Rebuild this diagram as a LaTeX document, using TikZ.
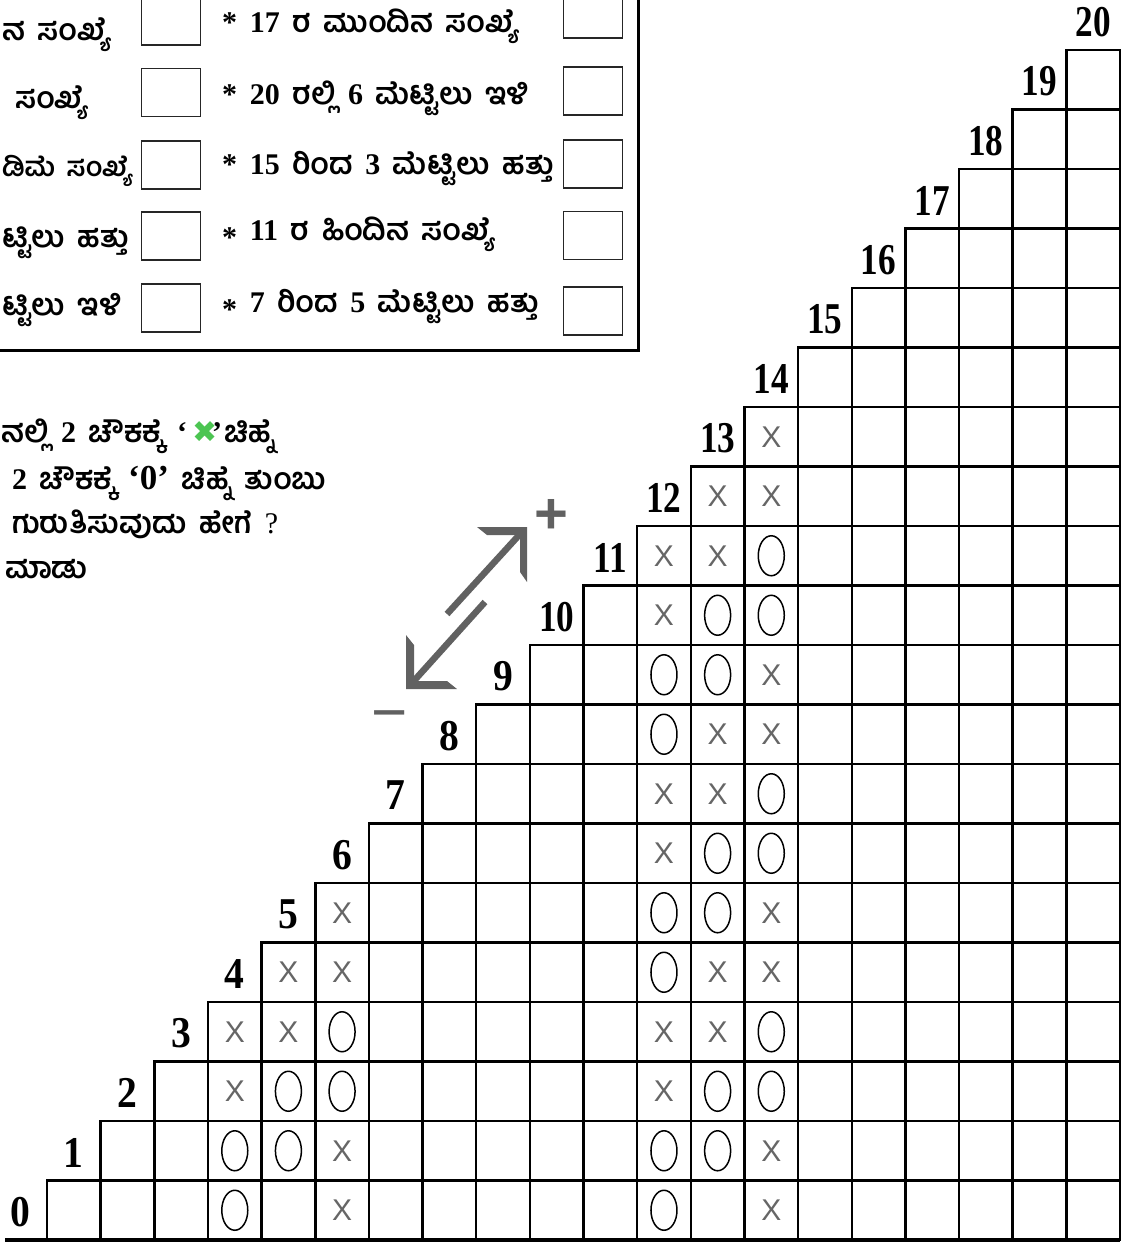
\documentclass[tikz,border=0pt]{standalone}
\usepackage{fontspec}
\usepackage{graphicx}
\setmainfont{Liberation Serif}
\newfontfamily\kanfont[Script=Kannada,WordSpace=1.7]{Hind Mysuru}
\newfontfamily\markfont{Liberation Sans}
\newfontfamily\symfont{DejaVu Sans}
\usetikzlibrary{shapes.geometric}
\definecolor{markgray}{HTML}{666666}
\definecolor{arrowgray}{HTML}{616161}
\definecolor{tickgreen}{HTML}{4CC552}
\newcommand{\cellw}{53.65}
\newcommand{\cellh}{59.5}
\newcommand{\num}[1]{{\rmfamily\bfseries #1}}
\newcommand{\stepnum}[1]{\ifnum#1>9 \scalebox{0.8}[1]{#1}\else\scalebox{0.9}[1]{#1}\fi}

\begin{document}
\begin{tikzpicture}[
    x=1pt,y=-1pt,
    every node/.style={inner sep=0pt},
    gridline/.style={line width=2.5pt},
    steplabel/.style={font=\bfseries\fontsize{44}{44}\selectfont},
    xmark/.style={font=\markfont\fontsize{30}{30}\selectfont,text=markgray},
    omark/.style={ellipse,draw,line width=1.5pt,minimum width=26pt,minimum height=40pt},
    ansbox/.style={draw=black!85,line width=1.6pt,minimum width=59pt,minimum height=48pt},
    kantext/.style={font=\kanfont\bfseries\fontsize{30}{36}\selectfont,anchor=base west},
    signtext/.style={font=\markfont\fontsize{62}{62}\selectfont,text=arrowgray},
]
\useasboundingbox (0,0) rectangle (1133,1242);

% === Question box ===
\draw[line width=3pt] (-5,350) -- (638,350) -- (638,-5);

\node[ansbox] (ansL1) at (171,21) {};
\node[ansbox] (ansL2) at (171,92.5) {};
\node[ansbox] (ansL3) at (171,165) {};
\node[ansbox] (ansL4) at (171,236) {};
\node[ansbox] (ansL5) at (171,308) {};

\node[ansbox] (ansR1) at (593,14) {};
\node[ansbox] (ansR2) at (593,91) {};
\node[ansbox] (ansR3) at (593,164) {};
\node[ansbox] (ansR4) at (593,235.5) {};
\node[ansbox] (ansR5) at (593,311) {};

\node[kantext] (qL1) at (2,40) {ನ ಸಂಖ್ಯೆ};
\node[kantext] (qL2) at (15,108) {ಸಂಖ್ಯೆ};
\node[kantext,font=\kanfont\bfseries\fontsize{27}{32}\selectfont] (qL3) at (2,176) {ಡಿಮೆ ಸಂಖ್ಯೆ};
\node[kantext] (qL4) at (2,247) {ಟ್ಟಿಲು ಹತ್ತು};
\node[kantext] (qL5) at (2,315) {ಟ್ಟಿಲು ಇಳಿ};

\node[kantext] (qR1) at (222,32) {\num{*} \num{17} ರ ಮುಂದಿನ ಸಂಖ್ಯೆ};
\node[kantext] (qR2) at (222,104) {\num{*} \num{20} ರಲ್ಲಿ \num{6} ಮೆಟ್ಟಿಲು ಇಳಿ};
\node[kantext] (qR3) at (222,174) {\num{*} \num{15} ರಿಂದ \num{3} ಮೆಟ್ಟಿಲು ಹತ್ತು};
\node[kantext] (qR4) at (222,240) {\raisebox{-7pt}{\num{*}} \num{11} ರ ಹಿಂದಿನ ಸಂಖ್ಯೆ};
\node[kantext] (qR5) at (222,312) {\raisebox{-7pt}{\num{*}} \num{7} ರಿಂದ \num{5} ಮೆಟ್ಟಿಲು ಹತ್ತು};

% === Instructions ===
\node[kantext] (ins1) at (1,442) {ನಲ್ಲಿ \num{2} ಚೌಕಕ್ಕೆ \num{‘}\,{\symfont\mdseries\fontsize{30}{30}\selectfont\color{tickgreen}✖}\kern-5pt\num{’}\kern2pt ಚಿಹ್ನೆ};
\node[kantext] (ins2) at (12,489) {\num{2} ಚೌಕಕ್ಕೆ {\fontsize{35}{35}\selectfont\num{‘0’}} ಚಿಹ್ನೆ ತುಂಬು};
\node[kantext] (ins3) at (12,533) {ಗುರುತಿಸುವುದು ಹೇಗೆ {\rmfamily\mdseries ?}};
\node[kantext] (ins4) at (5,578) {ಮಾಡು};

% === Up / down arrow ===
\draw[arrowgray,line width=6.5pt] (447,614) -- (521,533);
\fill[arrowgray] (477,527) -- (527,527) -- (527,582) -- (520,572) -- (520,535) -- (487,535) -- cycle;
\draw[arrowgray,line width=6.5pt] (485,602) -- (412,683);
\fill[arrowgray] (406,635) -- (406,689) -- (457,689) -- (447,681) -- (414,681) -- (414,645) -- cycle;
\node[signtext,font=\markfont\bfseries\fontsize{58}{58}\selectfont] (plus) at (551,516) {+};
\node[signtext] (minus) at (390,722) {−};

% === Staircase ===
\foreach \r in {0,...,19}
    \foreach \c in {\r,...,19}
        \draw[gridline] ({47+\c*\cellw},{1240-\r*\cellh}) rectangle ++(\cellw,-\cellh);
\draw[line width=3.4pt] (5,1240) -- (1120,1240);
\draw[line width=3.4pt] ({47+8*\cellw},{1240-9*\cellh}) -- (1120,{1240-9*\cellh});

\foreach \r in {0,...,20}
    \node[steplabel] (lab\r) at ({47+(\r-0.5)*\cellw},{1240-(\r+0.47)*\cellh}) {\stepnum{\r}};

% === Marks ===
\foreach \c/\r in {3/0,3/1,4/1,4/2,5/2,5/3,
        11/0,11/1,12/1,12/2,13/2,13/3,11/4,11/5,12/5,12/6,13/6,13/7,
        11/8,11/9,12/9,12/10,13/10,13/11}
    \node[omark] (o\c-\r) at ({47+(\c+0.5)*\cellw},{1240-(\r+0.5)*\cellh}) {};
\foreach \c/\r in {5/0,5/1,3/2,3/3,4/3,4/4,5/4,5/5,
        13/0,13/1,11/2,11/3,12/3,12/4,13/4,13/5,11/6,11/7,12/7,12/8,13/8,13/9,
        11/10,11/11,12/11,12/12,13/12,13/13}
    \node[xmark] (x\c-\r) at ({47+(\c+0.5)*\cellw},{1240-(\r+0.5)*\cellh}) {X};

\end{tikzpicture}
\end{document}
